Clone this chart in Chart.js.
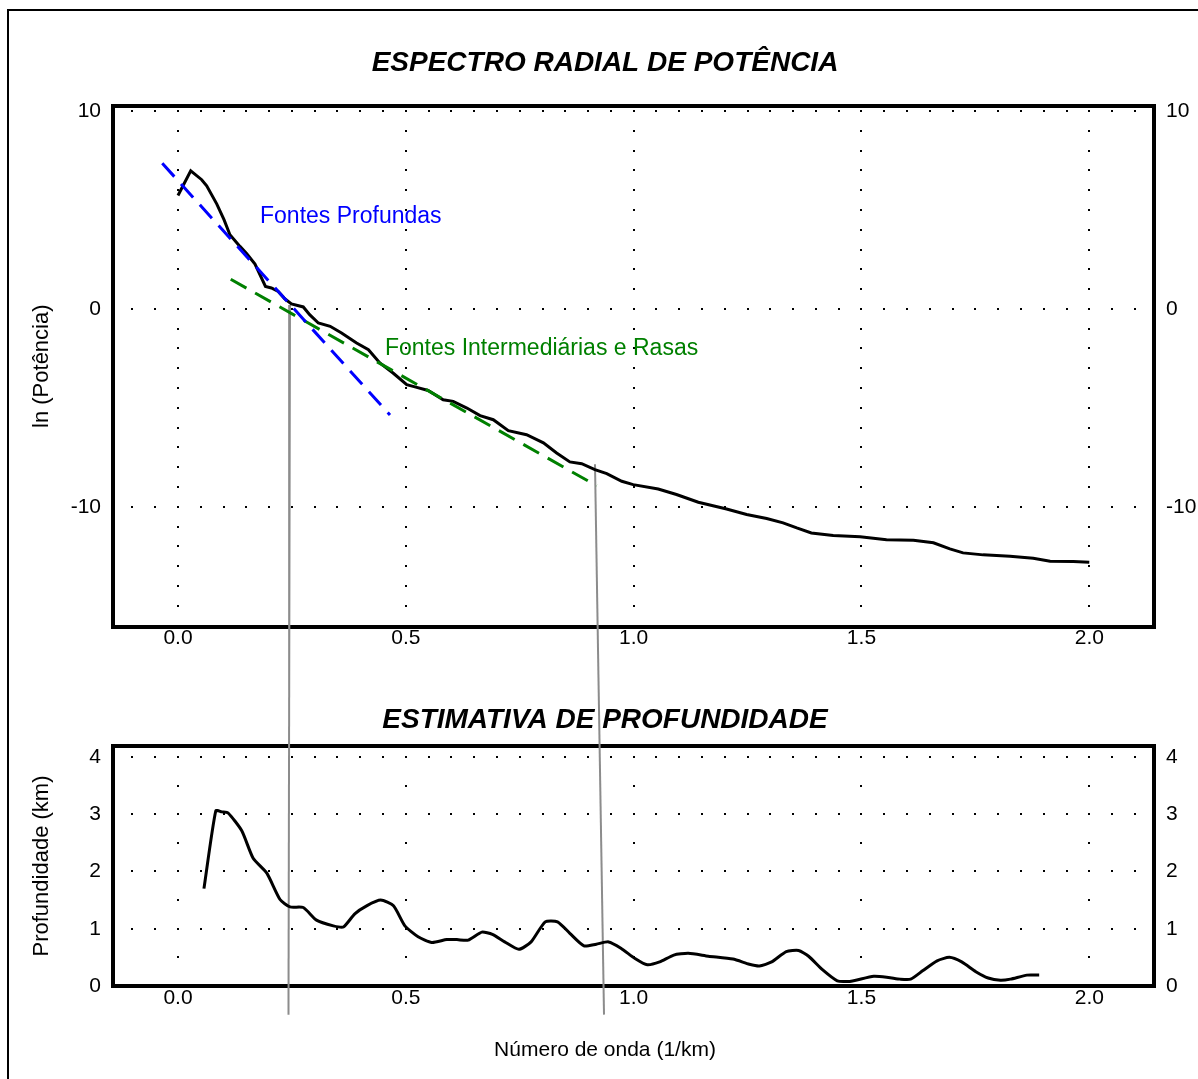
<!DOCTYPE html>
<html><head><meta charset="utf-8">
<script src="https://cdn.jsdelivr.net/npm/chart.js@4"></script>
<style>
html,body{margin:0;padding:0;background:#fff;overflow:hidden;width:1198px;height:1079px}
#frame{position:absolute;left:7px;top:9px;width:1300px;height:1200px;border-left:2px solid #000;border-top:2px solid #000;box-sizing:border-box}
canvas{position:absolute;left:0}
#c1{top:0}
#c2{top:690px}
</style></head><body>
<div id="frame"></div>
<canvas id="c1" width="1198" height="690"></canvas>
<canvas id="c2" width="1198" height="389"></canvas>
<script>
const FONT = "'Liberation Sans', Arial, Helvetica, sans-serif";

// ---- tick labels ----
const xTickValues = [0, 0.5, 1.0, 1.5, 2.0];
const specYTicks = [-10, 0, 10];
const depthYTicks = [0, 1, 2, 3, 4];

// ---- radial power spectrum (wavenumber 1/km, ln power) ----
const specK = [0, 0.028, 0.052, 0.063, 0.085, 0.101, 0.114, 0.136, 0.151, 0.169,
  0.192, 0.205, 0.220, 0.235, 0.249, 0.275, 0.289, 0.308, 0.334, 0.359,
  0.392, 0.418, 0.443, 0.472, 0.502, 0.520, 0.549, 0.582, 0.604, 0.634,
  0.663, 0.692, 0.725, 0.765, 0.802, 0.831, 0.860, 0.886, 0.915, 0.941,
  0.974, 0.999, 1.054, 1.094, 1.142, 1.204, 1.248, 1.292, 1.328, 1.358,
  1.390, 1.438, 1.497, 1.555, 1.614, 1.658, 1.694, 1.723, 1.767, 1.826,
  1.877, 1.914, 1.965, 2.000];
const specLnP = [5.73, 6.98, 6.53, 6.22, 5.31, 4.51, 3.75, 3.16, 2.79, 2.27,
  1.14, 1.06, 0.88, 0.50, 0.25, 0.10, -0.29, -0.71, -0.88, -1.22,
  -1.72, -2.06, -2.73, -3.24, -3.83, -3.94, -4.12, -4.59, -4.67, -5.01,
  -5.39, -5.60, -6.15, -6.36, -6.77, -7.28, -7.73, -7.82, -8.12, -8.32,
  -8.71, -8.88, -9.10, -9.38, -9.77, -10.11, -10.39, -10.59, -10.81, -11.07,
  -11.32, -11.45, -11.52, -11.66, -11.69, -11.82, -12.13, -12.33, -12.43, -12.50,
  -12.60, -12.75, -12.77, -12.80];

// ---- fitted lines ----
const deepFitK = [-0.0345, 0.4653];
const deepFitLnP = [7.36, -5.36];
const shallowFitK = [0.1158, 0.9189];
const shallowFitLnP = [1.50, -8.94];

// ---- depth estimate ----
const depthK = [0.057, 0.083, 0.096, 0.110, 0.140, 0.165, 0.195, 0.224, 0.246, 0.275,
  0.304, 0.341, 0.363, 0.388, 0.414, 0.445, 0.473, 0.498, 0.527, 0.557,
  0.590, 0.612, 0.637, 0.667, 0.690, 0.717, 0.748, 0.775, 0.806, 0.833,
  0.860, 0.891, 0.918, 0.945, 0.972, 1.003, 1.030, 1.057, 1.088, 1.120,
  1.164, 1.218, 1.254, 1.276, 1.303, 1.335, 1.362, 1.384, 1.415, 1.447,
  1.474, 1.527, 1.559, 1.585, 1.608, 1.635, 1.666, 1.693, 1.720, 1.751,
  1.778, 1.805, 1.827, 1.863, 1.890];
const depthKm = [1.70, 3.06, 3.04, 3.02, 2.71, 2.23, 1.97, 1.51, 1.38, 1.37,
  1.15, 1.05, 1.03, 1.26, 1.40, 1.50, 1.40, 1.05, 0.86, 0.76,
  0.81, 0.81, 0.80, 0.94, 0.90, 0.77, 0.64, 0.77, 1.12, 1.12,
  0.92, 0.70, 0.73, 0.77, 0.66, 0.48, 0.37, 0.42, 0.54, 0.57,
  0.52, 0.47, 0.38, 0.35, 0.42, 0.60, 0.62, 0.52, 0.28, 0.09,
  0.08, 0.17, 0.15, 0.12, 0.12, 0.27, 0.44, 0.50, 0.42, 0.25,
  0.14, 0.10, 0.12, 0.19, 0.19];

// ---- cut-off guide lines (segments in each panel) ----
const cutLowSpecK = [0.2458, 0.2440];
const cutLowSpecY = [0.2, -20];
const cutHighSpecK = [0.9152, 0.9238];
const cutHighSpecY = [-7.85, -20];
const cutLowDepthK = [0.2441, 0.2425];
const cutLowDepthY = [5.4, -0.5];
const cutHighDepthK = [0.9228, 0.935];
const cutHighDepthY = [5.4, -0.5];

// ---- labels ----
const deepLabel = 'Fontes Profundas';
const shallowLabel = 'Fontes Intermediárias e Rasas';

const pts = (xs, ys) => xs.map((x, i) => ({x: x, y: ys[i]}));

const X_MIN = -0.1426, X_MAX = 2.142;

const dotGrid = {
  id: 'dotGrid',
  beforeDatasetsDraw(chart, args, o) {
    const {ctx, scales} = chart;
    const x = scales.x, y = scales.y;
    const s = o.size;
    ctx.save();
    ctx.fillStyle = o.color;
    o.rows.forEach(v => {
      const py = y.getPixelForValue(v);
      const i0 = Math.ceil(x.min / o.xStep - 1e-6);
      for (let i = i0; i * o.xStep <= x.max + 1e-6; i++) {
        const px = x.getPixelForValue(i * o.xStep);
        ctx.fillRect(Math.round(px - s / 2), Math.round(py - s / 2), s, s);
      }
    });
    o.cols.forEach(v => {
      const px = x.getPixelForValue(v);
      const j0 = Math.ceil(y.min / o.yStep - 1e-6);
      for (let j = j0; j * o.yStep <= y.max + 1e-6; j++) {
        const py = y.getPixelForValue(j * o.yStep);
        ctx.fillRect(Math.round(px - s / 2), Math.round(py - s / 2), s, s);
      }
    });
    (o.notes || []).forEach(n => {
      ctx.font = n.font;
      ctx.fillStyle = n.color;
      ctx.textAlign = 'left';
      ctx.textBaseline = 'middle';
      ctx.fillText(n.text, x.getPixelForValue(n.x), y.getPixelForValue(n.y));
    });
    ctx.restore();
  }
};

function xScale(pos, height, showTicks, pad) {
  return {
    type: 'linear', position: pos, min: X_MIN, max: X_MAX,
    afterBuildTicks: s => { s.ticks = xTickValues.map(v => ({value: v})); },
    afterFit: s => { s.height = height; },
    grid: {display: false, drawTicks: false, lineWidth: 4},
    border: {display: true, width: 4, color: '#000'},
    ticks: {display: showTicks, padding: pad, color: '#000', font: {family: FONT, size: 21},
      maxRotation: 0, autoSkip: false, callback: v => Number(v).toFixed(1)}
  };
}
function yScale(pos, min, max, tickVals, width, title) {
  return {
    type: 'linear', position: pos, min: min, max: max,
    afterBuildTicks: s => { s.ticks = tickVals.map(v => ({value: v})); },
    afterFit: s => { s.width = width; },
    grid: {display: false, drawTicks: false, lineWidth: 4},
    border: {display: true, width: 4, color: '#000'},
    ticks: {padding: 12, color: '#000', font: {family: FONT, size: 21}, autoSkip: false},
    title: title ? {display: true, text: title, color: '#000', font: {family: FONT, size: 22},
      padding: {top: 16.5, bottom: 0}} : {display: false}
  };
}

Chart.defaults.font.family = FONT;

const lineDs = (data, color, width, dash, order, extra) => Object.assign({
  data: data, borderColor: color, backgroundColor: color, borderWidth: width,
  borderDash: dash, pointRadius: 0, fill: false, tension: 0, order: order
}, extra || {});

new Chart(document.getElementById('c1'), {
  type: 'line',
  data: {
    datasets: [
      lineDs(pts(cutLowSpecK, cutLowSpecY), '#8c8c8c', 2, [], 5, {clip: false}),
      lineDs(pts(cutHighSpecK, cutHighSpecY), '#8c8c8c', 2, [], 5, {clip: false}),
      lineDs(pts(specK, specLnP), '#000', 3, [], 1),
      lineDs(pts(deepFitK, deepFitLnP), '#0000ff', 3, [18, 10], 0),
      lineDs(pts(shallowFitK, shallowFitLnP), '#008000', 3, [18, 10], 0)
    ]
  },
  options: {
    responsive: false, animation: false,
    layout: {padding: {left: 12, right: 0, top: 0, bottom: 0}},
    plugins: {
      legend: {display: false}, tooltip: {enabled: false},
      title: {display: true, text: 'ESPECTRO RADIAL DE POTÊNCIA', color: '#000',
        font: {family: FONT, size: 28, weight: 'bold', style: 'italic'},
        padding: {top: 46, bottom: 0}},
      dotGrid: {color: '#000', size: 2, rows: specYTicks, cols: xTickValues, xStep: 0.05, yStep: 1,
        notes: [
          {text: deepLabel, x: 0.18, y: 4.645, color: '#0000ff', font: '23px ' + FONT},
          {text: shallowLabel, x: 0.4543, y: -2.03, color: '#008000', font: '23px ' + FONT}
        ]}
    },
    scales: {
      x: xScale('bottom', 63.3, true, -1),
      xTop: xScale('top', 26.1, false, 0),
      y: yScale('left', -16.06, 10.27, specYTicks, 101, 'ln (Potência)'),
      yRight: yScale('right', -16.06, 10.27, specYTicks, 44, null)
    }
  },
  plugins: [dotGrid]
});

new Chart(document.getElementById('c2'), {
  type: 'line',
  data: {
    datasets: [
      lineDs(pts(cutLowDepthK, cutLowDepthY), '#8c8c8c', 2, [], 5, {clip: false}),
      lineDs(pts(cutHighDepthK, cutHighDepthY), '#8c8c8c', 2, [], 5, {clip: false}),
      lineDs(pts(depthK, depthKm), '#000', 3, [], 1, {tension: 0.2})
    ]
  },
  options: {
    responsive: false, animation: false,
    layout: {padding: {left: 12, right: 0, top: 0, bottom: 0}},
    plugins: {
      legend: {display: false}, tooltip: {enabled: false},
      title: {display: true, text: 'ESTIMATIVA DE PROFUNDIDADE', color: '#000',
        font: {family: FONT, size: 28, weight: 'bold', style: 'italic'},
        padding: {top: 13, bottom: 0}},
      subtitle: {display: true, position: 'bottom', text: 'Número de onda (1/km)', color: '#000',
        font: {family: FONT, size: 21}, padding: {top: 0, bottom: 16.4}},
      dotGrid: {color: '#000', size: 2, rows: depthYTicks.slice(1), cols: xTickValues, xStep: 0.05, yStep: 0.5, notes: []}
    },
    scales: {
      x: xScale('bottom', 51.4, true, 0),
      xTop: xScale('top', 9.4, false, 0),
      y: yScale('left', 0, 4.19, depthYTicks, 101, 'Profundidade (km)'),
      yRight: yScale('right', 0, 4.19, depthYTicks, 44, null)
    }
  },
  plugins: [dotGrid]
});
</script>
</body></html>
